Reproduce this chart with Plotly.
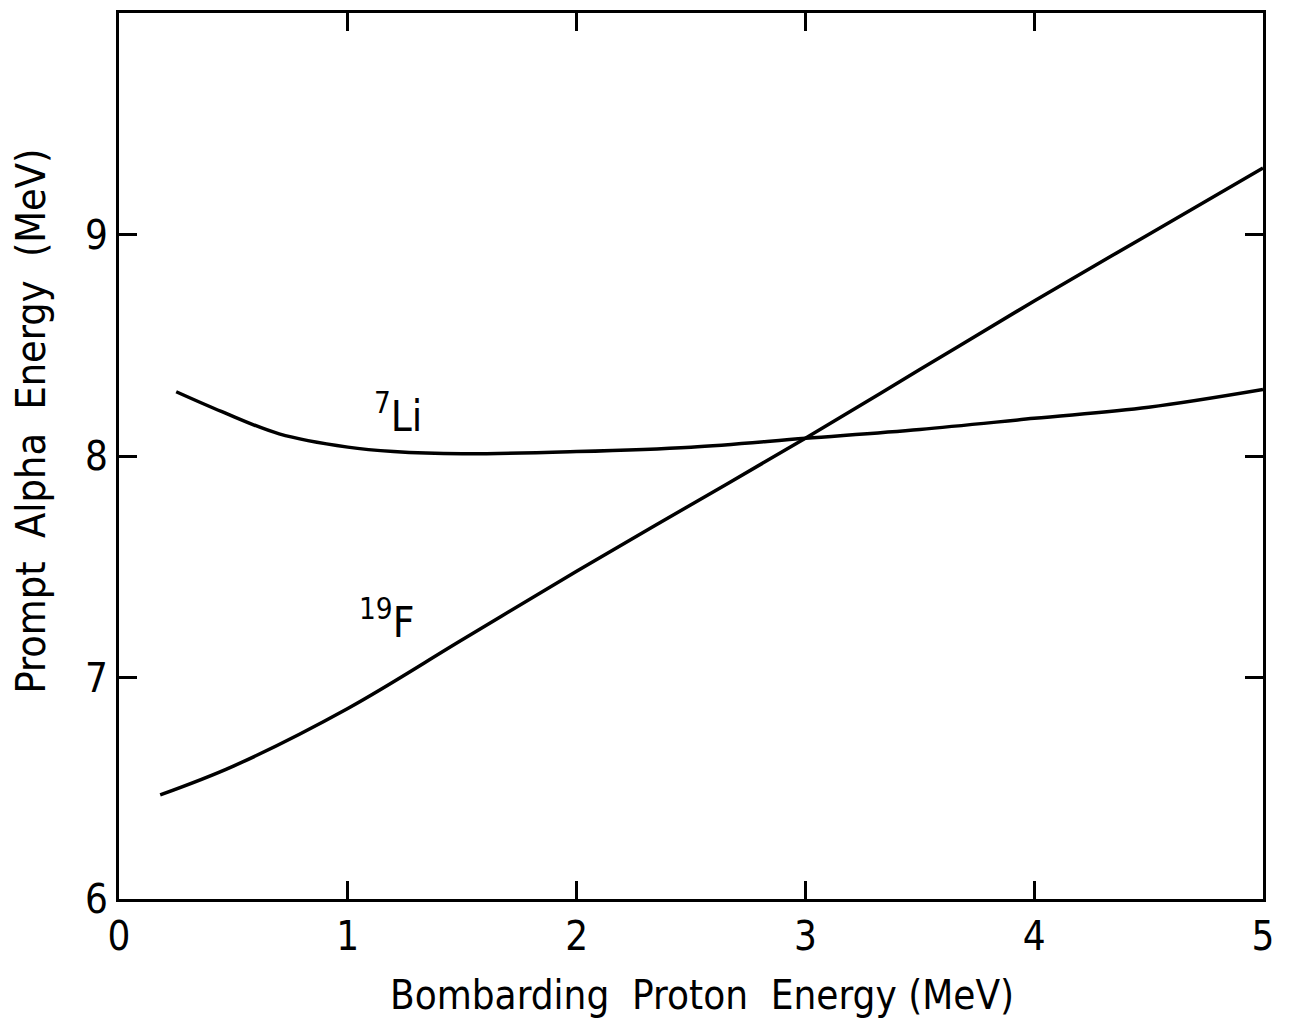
import plotly.graph_objects as go

f19_x = [0.18, 0.5, 1.0, 1.5, 2.0, 2.5, 3.0, 3.5, 4.0, 4.5, 5.0]
f19_y = [6.47, 6.60, 6.86, 7.17, 7.48, 7.78, 8.08, 8.39, 8.70, 9.00, 9.30]

li7_x = [0.25, 0.45, 0.7, 1.0, 1.2, 1.5, 2.0, 2.5, 3.0, 3.5, 4.0, 4.5, 5.0]
li7_y = [8.29, 8.20, 8.10, 8.04, 8.02, 8.01, 8.02, 8.04, 8.08, 8.12, 8.17, 8.22, 8.30]

x_ticks = [0, 1, 2, 3, 4, 5]
y_ticks = [6, 7, 8, 9]

labels = [("<sup>7</sup>Li", 1.22, 8.19), ("<sup>19</sup>F", 1.17, 7.26)]

x_title = "Bombarding  Proton  Energy (MeV)"
y_title = "Prompt  Alpha  Energy  (MeV)"

FONT = "DejaVu Sans Condensed, Liberation Sans Narrow, DejaVu Sans"

fig = go.Figure()
fig.add_trace(go.Scatter(x=f19_x, y=f19_y, mode="lines", line=dict(color="black", width=3.5, shape="spline", smoothing=1.0), showlegend=False))
fig.add_trace(go.Scatter(x=li7_x, y=li7_y, mode="lines", line=dict(color="black", width=3.5, shape="spline"), showlegend=False))

for txt, x, y in labels:
    fig.add_annotation(x=x, y=y, text=txt, showarrow=False, font=dict(size=42, color="black", family=FONT))

fig.add_annotation(x=0.51, y=-0.108, xref="paper", yref="paper", text=x_title, showarrow=False,
                   xanchor="center", yanchor="middle", font=dict(size=40, color="black", family=FONT))
fig.add_annotation(x=-0.077, y=0.54, xref="paper", yref="paper", text=y_title, showarrow=False, textangle=-90,
                   xanchor="center", yanchor="middle", font=dict(size=41, color="black", family=FONT))

axis_common = dict(showline=True, linecolor="black", linewidth=3, mirror="allticks", ticks="inside",
                   ticklen=18, tickwidth=3, tickcolor="black", showgrid=False, zeroline=False,
                   tickfont=dict(size=40, color="black", family=FONT))

fig.update_xaxes(range=[0, 5], tickvals=x_ticks, **axis_common)
fig.update_yaxes(range=[6, 10], tickvals=y_ticks, **axis_common)

fig.update_layout(width=1290, height=1020, margin=dict(l=119, r=27, t=10, b=121),
                  plot_bgcolor="white", paper_bgcolor="white")

fig.write_html("out.html")
